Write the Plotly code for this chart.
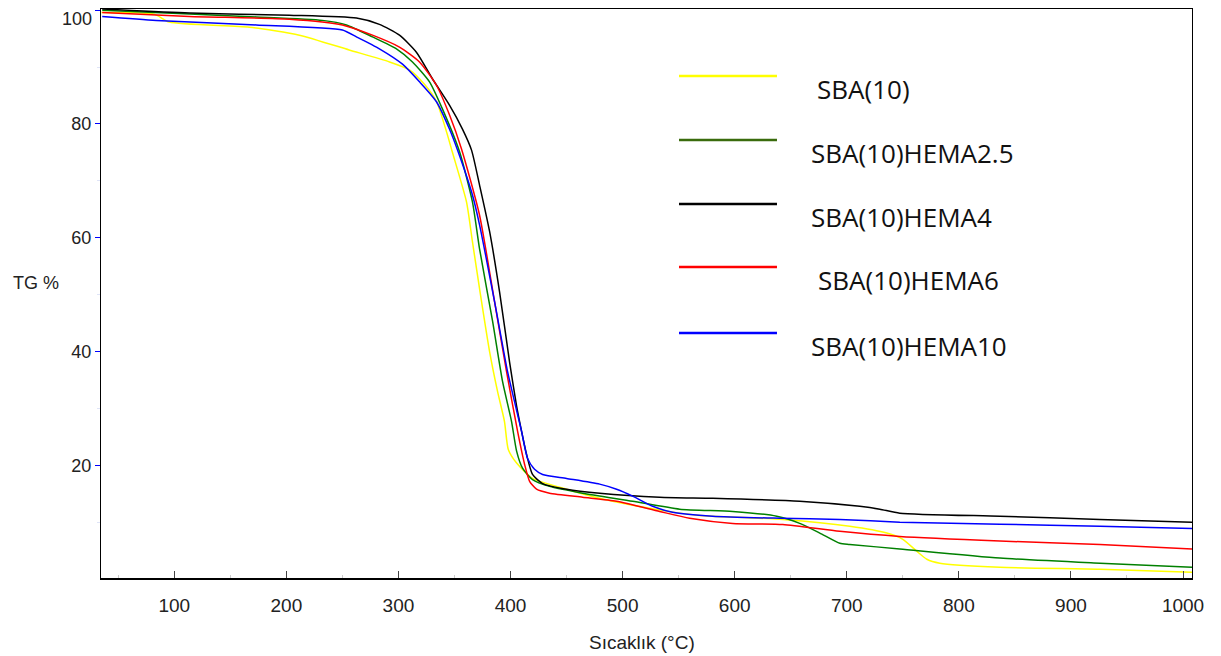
import plotly.graph_objects as go

# ---------------- data ----------------
series_names = ["SBA(10)", "SBA(10)HEMA2.5", "SBA(10)HEMA4", "SBA(10)HEMA6", "SBA(10)HEMA10"]
series_colors = ["#FFFF00", "#008000", "#000000", "#FF0000", "#0000FF"]
legend_colors = ["#FFFF00", "#3A6B0C", "#000000", "#FF0000", "#0000FF"]

T_sba10 = [35, 82.1, 95.5, 167, 211.6, 256, 292, 309.8, 323, 334, 342.9, 348, 360.7, 366, 372.3,
           381.3, 388.4, 394.6, 398, 405.4, 419.6, 450, 479.5, 509, 551, 568.8, 642.9, 702.7,
           735.7, 750, 762.5, 771.4, 783, 836.6, 925.9, 1008]
W_sba10 = [99.6, 99.3, 97.9, 97.0, 95.6, 93.0, 90.9, 89.5, 87.0, 83.9, 78.6, 75.1, 66.3, 59.3, 51.1,
           40.0, 33.0, 27.7, 22.8, 20.4, 17.7, 15.8, 14.2, 13.0, 11.6, 11.2, 10.5, 9.3,
           8.1, 7.0, 4.9, 3.5, 2.8, 2.1, 1.75, 1.2]

T_hema25 = [35.7, 113.4, 173.2, 232, 253.6, 276.8, 298.2, 312.5, 327.7, 339.3, 354.5, 366, 372.3,
            384, 392.9, 400.9, 405.4, 410.7, 419.6, 434.8, 464.3, 508.9, 550.9, 598.2, 637.5,
            658, 675.9, 693.8, 702.7, 747.3, 836.6, 925.9, 1008]
W_hema25 = [100.0, 99.3, 98.8, 98.2, 97.4, 95.3, 93.2, 90.9, 87.4, 82.6, 75.1, 66.3, 58.1,
            45.3, 34.7, 27.7, 22.5, 19.5, 17.5, 16.3, 15.1, 13.7, 12.3, 11.9, 11.05,
            9.8, 8.1, 6.3, 6.1, 5.3, 3.7, 2.8, 2.1]

T_hema4 = [35.7, 113.4, 202.7, 262.5, 283, 300.9, 316, 330.4, 345.5, 357.1, 365.2, 372.3, 381.3,
           390.2, 399.1, 405.4, 409.8, 414.3, 419.6, 428.6, 450, 479.5, 533, 580.4, 658, 711.6,
           729.5, 747.3, 836.6, 925.9, 1008]
W_hema4 = [100.2, 99.5, 99.1, 98.6, 97.5, 95.6, 92.6, 87.9, 83.3, 79.1, 75.4, 69.3, 61.1,
           50.5, 38.2, 30.4, 26.0, 21.9, 18.4, 16.8, 15.8, 15.1, 14.4, 14.2, 13.7, 12.8,
           12.3, 11.6, 11.05, 10.5, 10.0]

T_hema6 = [35.7, 113.4, 202.7, 250, 276.8, 300.9, 318.75, 333.9, 345.5, 356.25, 372.3, 385.7, 396.4,
           406.25, 412.5, 417, 423.2, 434.8, 464.3, 494.6, 533, 559.8, 598.2, 642.9, 693.75,
           747.3, 836.6, 925.9, 1008]
W_hema6 = [99.6, 98.9, 98.4, 97.4, 95.6, 93.5, 90.9, 86.8, 81.6, 75.6, 64.0, 48.8, 36.5,
           26.0, 20.2, 17.2, 15.8, 15.1, 14.4, 13.7, 11.9, 10.7, 9.8, 9.6, 8.4,
           7.5, 6.7, 6.1, 5.3]

T_hema10 = [35.7, 83.9, 173.2, 250, 262.5, 283, 303.6, 318.75, 333.9, 345.5, 352.7, 366, 372.3,
            385.7, 397.3, 404.5, 409.8, 415.2, 421.4, 428.6, 450, 479.5, 494.6, 508.9, 526.8,
            544.6, 580.4, 640.2, 693.75, 747.3, 836.6, 925.9, 1008]
W_hema10 = [98.9, 98.2, 97.4, 96.5, 95.3, 93.2, 90.5, 87.4, 83.9, 79.1, 75.4, 67.5, 62.3,
            48.8, 36.5, 30.4, 26.0, 21.2, 19.3, 18.4, 17.7, 16.7, 15.8, 14.6, 12.8,
            11.75, 11.05, 10.7, 10.5, 10.0, 9.65, 9.3, 8.9]

x_tick_vals = [100, 200, 300, 400, 500, 600, 700, 800, 900, 1000]
y_tick_vals = [20, 40, 60, 80, 100]
y_tick_text = ["20", "40", "60", "80", ""]   # the "100" label is drawn slightly lower, as an annotation
y_top_label = "100"
x_title = "Sıcaklık (°C)"
y_title = "TG %"

series_T = [T_sba10, T_hema25, T_hema4, T_hema6, T_hema10]
series_W = [W_sba10, W_hema25, W_hema4, W_hema6, W_hema10]

SANS = "Liberation Sans, Arial, DejaVu Sans, sans-serif"
NARROW = "Liberation Sans Narrow, Arial Narrow, Liberation Sans, Arial, sans-serif"

# ---------------- figure ----------------
fig = go.Figure()
for name, col, xs, ys in zip(series_names, series_colors, series_T, series_W):
    fig.add_trace(go.Scatter(x=xs, y=ys, mode="lines", name=name,
                             line=dict(color=col, width=1.5, shape="spline", smoothing=0.6),
                             showlegend=False))

# custom legend (long line samples, big text)
leg_x0, leg_x1 = 0.5298, 0.6196
leg_y = [0.8822, 0.7698, 0.6573, 0.5466, 0.4306]
txt_dy = -0.023
txt_x = [0.6544, 0.6489, 0.6489, 0.6553, 0.6489]
for i, (name, col) in enumerate(zip(series_names, legend_colors)):
    fig.add_shape(type="line", xref="paper", yref="paper",
                  x0=leg_x0, x1=leg_x1, y0=leg_y[i], y1=leg_y[i],
                  line=dict(color=col, width=2.5))
    fig.add_annotation(xref="paper", yref="paper", x=txt_x[i], y=leg_y[i] + txt_dy,
                       text=name, showarrow=False, xanchor="left", yanchor="middle",
                       font=dict(family="Open Sans, Noto Sans, sans-serif", size=26, color="#111111"))

fig.add_annotation(xref="paper", yref="y", x=0, y=y_tick_vals[-1], yshift=-9, xshift=-7,
                   text=y_top_label, showarrow=False, xanchor="right", yanchor="middle",
                   font=dict(family=SANS, size=18, color="#222222"))
fig.add_annotation(xref="paper", yref="paper", x=-0.0596, y=0.5185, text=y_title,
                   showarrow=False, xanchor="center", yanchor="middle",
                   font=dict(family=SANS, size=18, color="#222222"))
fig.add_annotation(xref="paper", yref="paper", x=0.4958, y=-0.114, text=x_title,
                   showarrow=False, xanchor="center", yanchor="middle",
                   font=dict(family=NARROW, size=19, color="#222222"))

# the page body has an 8px margin; size the figure so it fits the window
fig.update_layout(
    width=1213, height=648,
    margin=dict(l=93, r=29, t=1, b=78, autoexpand=False),
    paper_bgcolor="white", plot_bgcolor="white",
    showlegend=False,
)
fig.update_xaxes(
    range=[34.6, 1008], tickvals=x_tick_vals, automargin=False,
    ticks="inside", ticklen=7, tickcolor="#444444", tickwidth=1,
    ticklabelstandoff=9,
    minor=dict(dtick=50, tick0=0, ticks="inside", ticklen=3, tickcolor="#cccccc"),
    showgrid=False, zeroline=False,
    showline=True, linecolor="black", linewidth=1.5, mirror=True,
    tickfont=dict(family=NARROW, size=19, color="#222222"),
)
fig.update_yaxes(
    range=[0.2, 100.2], tickvals=y_tick_vals, ticktext=y_tick_text, automargin=False,
    ticks="outside", ticklen=5, tickcolor="#0000FF", tickwidth=1,
    minor=dict(dtick=10, tick0=0, ticks="outside", ticklen=3, tickcolor="#dfe4f7"),
    showgrid=False, zeroline=False,
    showline=True, linecolor="black", linewidth=1, mirror=True,
    tickfont=dict(family=SANS, size=18, color="#222222"),
)

fig.write_html("out.html")
